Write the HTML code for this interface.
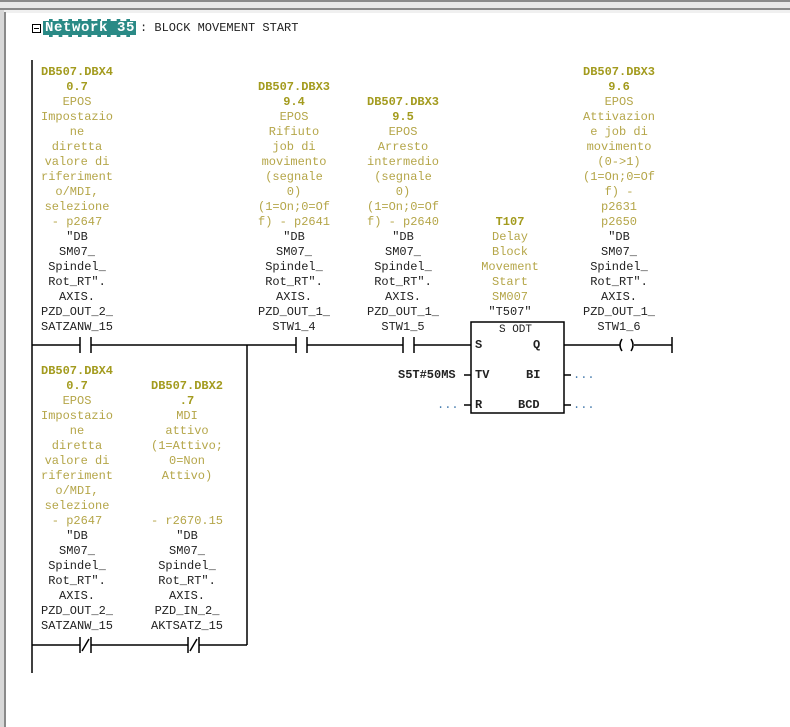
<!DOCTYPE html>
<html><head><meta charset="utf-8"><style>
html,body{margin:0;padding:0;width:790px;height:727px;overflow:hidden;background:#fff;position:relative;font-family:"Liberation Mono",monospace;}
.col{position:absolute;text-align:center;font-size:12px;line-height:15px;white-space:pre;transform:translateX(-50%);}
.a{color:#a39b1e;font-weight:bold;}
.c{color:#b5a649;}
.s{color:#222;}
.lbl{position:absolute;font-size:12px;color:#222;font-family:"Liberation Mono",monospace;white-space:pre;}
</style></head><body>
<div style="position:absolute;left:0;top:0;width:790px;height:2px;background:#8a8a8a"></div>
<div style="position:absolute;left:0;top:2px;width:790px;height:6px;background:#e8e8e8"></div>
<div style="position:absolute;left:0;top:8px;width:790px;height:2px;background:#8a8a8a"></div>
<div style="position:absolute;left:0;top:10px;width:790px;height:3px;background:#f0f0f0"></div>
<div style="position:absolute;left:0;top:10px;width:4px;height:717px;background:#d8d8d8"></div>
<div style="position:absolute;left:4px;top:12px;width:2px;height:715px;background:#8a8a8a"></div>

<div style="position:absolute;left:32px;top:24px;width:7px;height:7px;border:1px solid #000;"></div>
<div style="position:absolute;left:34px;top:28px;width:5px;height:1px;background:#000;"></div>
<div style="position:absolute;left:43px;top:19px;width:93px;height:18px;background:#2a8a86;border-top:2px dashed #fff;border-bottom:2px dashed #fff;box-sizing:border-box"></div>
<div class="lbl" style="left:45px;top:20px;color:#fff;font-weight:bold;font-size:14px;letter-spacing:0.6px;">Network 35</div>
<div class="lbl" style="left:140px;top:21px;font-size:12px;">: BLOCK MOVEMENT START</div>

<svg width="790" height="727" style="position:absolute;left:0;top:0" fill="none" stroke="#000" stroke-width="1.5">
<line x1="32" y1="60" x2="32" y2="673"/>
<line x1="32" y1="345" x2="80" y2="345"/><line x1="80" y1="337" x2="80" y2="353"/><line x1="91" y1="337" x2="91" y2="353"/>
<line x1="91" y1="345" x2="296" y2="345"/><line x1="296" y1="337" x2="296" y2="353"/><line x1="307" y1="337" x2="307" y2="353"/>
<line x1="307" y1="345" x2="403" y2="345"/><line x1="403" y1="337" x2="403" y2="353"/><line x1="414" y1="337" x2="414" y2="353"/>
<line x1="414" y1="345" x2="471" y2="345"/>
<line x1="247" y1="345" x2="247" y2="645"/>
<line x1="32" y1="645" x2="80" y2="645"/><line x1="80" y1="637" x2="80" y2="653"/><line x1="91" y1="637" x2="91" y2="653"/><line x1="82" y1="651" x2="89" y2="639"/>
<line x1="91" y1="645" x2="188" y2="645"/><line x1="188" y1="637" x2="188" y2="653"/><line x1="199" y1="637" x2="199" y2="653"/><line x1="190" y1="651" x2="197" y2="639"/>
<line x1="199" y1="645" x2="247" y2="645"/>
<rect x="471" y="322" width="93" height="91"/>
<line x1="464" y1="375" x2="471" y2="375"/><line x1="464" y1="405" x2="471" y2="405"/>
<line x1="564" y1="345" x2="620" y2="345"/>
<path d="M622 339 Q618 345 622 351 M631 339 Q635 345 631 351"/>
<line x1="634" y1="345" x2="672" y2="345"/><line x1="672" y1="337" x2="672" y2="353"/>
<line x1="564" y1="375" x2="571" y2="375"/><line x1="564" y1="405" x2="571" y2="405"/>
</svg>
<div class="lbl" style="left:499px;top:324px;font-size:11px">S ODT</div>
<div class="lbl" style="left:475px;top:338px;font-weight:bold">S</div>
<div class="lbl" style="left:533px;top:338px;font-weight:bold">Q</div>
<div class="lbl" style="left:475px;top:368px;font-weight:bold">TV</div>
<div class="lbl" style="left:526px;top:368px;font-weight:bold">BI</div>
<div class="lbl" style="left:475px;top:398px;font-weight:bold">R</div>
<div class="lbl" style="left:518px;top:398px;font-weight:bold">BCD</div>
<div class="lbl" style="left:398px;top:368px;font-weight:bold">S5T#50MS</div>
<div class="lbl" style="left:437px;top:398px;color:#4a7fb0">...</div>
<div class="lbl" style="left:573px;top:368px;color:#4a7fb0">...</div>
<div class="lbl" style="left:573px;top:398px;color:#4a7fb0">...</div>

<div class="col" style="left:77px;top:65px"><span class="a">DB507.DBX4
0.7</span>
<span class="c">EPOS
Impostazio
ne
diretta
valore di
riferiment
o/MDI,
selezione
- p2647</span>
<span class="s">"DB
SM07_
Spindel_
Rot_RT".
AXIS.
PZD_OUT_2_
SATZANW_15</span></div>

<div class="col" style="left:294px;top:80px"><span class="a">DB507.DBX3
9.4</span>
<span class="c">EPOS
Rifiuto
job di
movimento
(segnale
0)
(1=On;0=Of
f) - p2641</span>
<span class="s">"DB
SM07_
Spindel_
Rot_RT".
AXIS.
PZD_OUT_1_
STW1_4</span></div>

<div class="col" style="left:403px;top:95px"><span class="a">DB507.DBX3
9.5</span>
<span class="c">EPOS
Arresto
intermedio
(segnale
0)
(1=On;0=Of
f) - p2640</span>
<span class="s">"DB
SM07_
Spindel_
Rot_RT".
AXIS.
PZD_OUT_1_
STW1_5</span></div>

<div class="col" style="left:510px;top:215px"><span class="a">T107</span>
<span class="c">Delay
Block
Movement
Start
SM007</span>
<span class="s">"T507"</span></div>

<div class="col" style="left:619px;top:65px"><span class="a">DB507.DBX3
9.6</span>
<span class="c">EPOS
Attivazion
e job di
movimento
(0-&gt;1)
(1=On;0=Of
f) -
p2631
p2650</span>
<span class="s">"DB
SM07_
Spindel_
Rot_RT".
AXIS.
PZD_OUT_1_
STW1_6</span></div>

<div class="col" style="left:77px;top:364px"><span class="a">DB507.DBX4
0.7</span>
<span class="c">EPOS
Impostazio
ne
diretta
valore di
riferiment
o/MDI,
selezione
- p2647</span>
<span class="s">"DB
SM07_
Spindel_
Rot_RT".
AXIS.
PZD_OUT_2_
SATZANW_15</span></div>

<div class="col" style="left:187px;top:379px"><span class="a">DB507.DBX2
.7</span>
<span class="c">MDI
attivo
(1=Attivo;
0=Non
Attivo)


- r2670.15</span>
<span class="s">"DB
SM07_
Spindel_
Rot_RT".
AXIS.
PZD_IN_2_
AKTSATZ_15</span></div>
</body></html>
